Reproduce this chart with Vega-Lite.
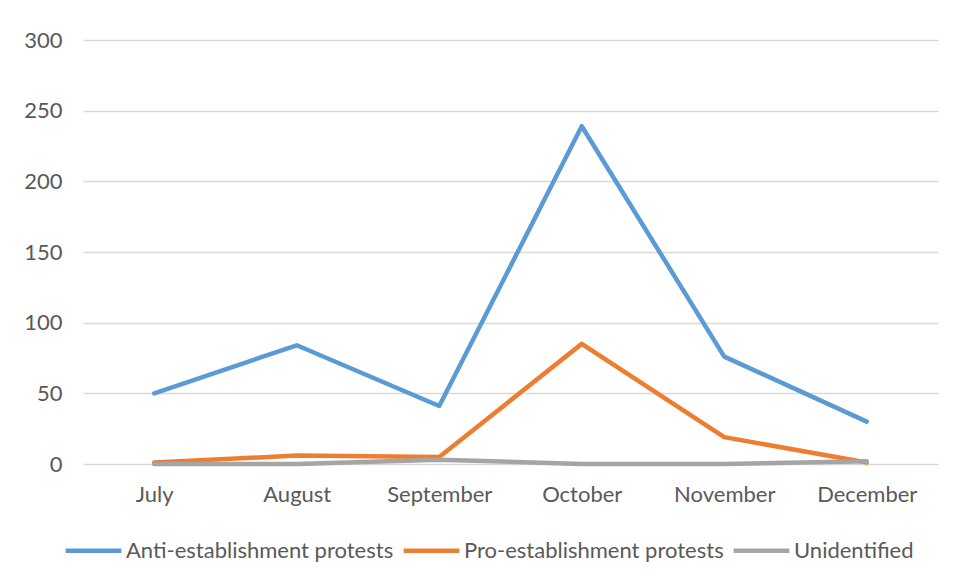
{
  "$schema": "https://vega.github.io/schema/vega-lite/v6.json",
  "width": 855,
  "height": 424,
  "autosize": {"type": "none"},
  "padding": {"left": 83, "top": 40, "right": 15, "bottom": 117},
  "background": "white",
  "config": {"view": {"stroke": null}, "font": "Lato"},
  "data": {"values": [
    {"month": "July", "series": "Anti-establishment protests", "value": 50},
    {"month": "August", "series": "Anti-establishment protests", "value": 84},
    {"month": "September", "series": "Anti-establishment protests", "value": 41},
    {"month": "October", "series": "Anti-establishment protests", "value": 239},
    {"month": "November", "series": "Anti-establishment protests", "value": 76},
    {"month": "December", "series": "Anti-establishment protests", "value": 30},
    {"month": "July", "series": "Pro-establishment protests", "value": 1},
    {"month": "August", "series": "Pro-establishment protests", "value": 6},
    {"month": "September", "series": "Pro-establishment protests", "value": 5},
    {"month": "October", "series": "Pro-establishment protests", "value": 85},
    {"month": "November", "series": "Pro-establishment protests", "value": 19},
    {"month": "December", "series": "Pro-establishment protests", "value": 1},
    {"month": "July", "series": "Unidentified", "value": 0},
    {"month": "August", "series": "Unidentified", "value": 0},
    {"month": "September", "series": "Unidentified", "value": 3},
    {"month": "October", "series": "Unidentified", "value": 0},
    {"month": "November", "series": "Unidentified", "value": 0},
    {"month": "December", "series": "Unidentified", "value": 2}
  ]},
  "mark": {"type": "line", "strokeWidth": 4.5, "strokeCap": "round", "strokeJoin": "round"},
  "encoding": {
    "x": {
      "field": "month", "type": "ordinal",
      "sort": ["July", "August", "September", "October", "November", "December"],
      "scale": {"type": "point", "padding": 0.5},
      "axis": {"title": null, "labelAngle": 0, "ticks": false, "domain": false, "grid": false,
               "labelFontSize": 22, "labelColor": "#595959", "labelPadding": 20}
    },
    "y": {
      "field": "value", "type": "quantitative",
      "scale": {"domain": [0, 300]},
      "axis": {"title": null, "values": [0, 50, 100, 150, 200, 250, 300], "ticks": false, "domain": false,
               "gridColor": "#D9D9D9", "gridWidth": 1.3, "labelFontSize": 22, "labelColor": "#595959", "labelPadding": 21}
    },
    "color": {
      "field": "series", "type": "nominal",
      "scale": {"domain": ["Anti-establishment protests", "Pro-establishment protests", "Unidentified"],
                "range": ["#5B9BD5", "#ED7D31", "#A5A5A5"]},
      "legend": {"title": null, "orient": "none", "direction": "horizontal", "legendX": -20, "legendY": 480, "padding": 0,
                 "symbolType": "stroke", "symbolSize": 3100, "symbolStrokeWidth": 4.5,
                 "labelFontSize": 22, "labelColor": "#595959", "columnPadding": 0, "labelOffset": 2, "labelLimit": 400}
    }
  }
}
